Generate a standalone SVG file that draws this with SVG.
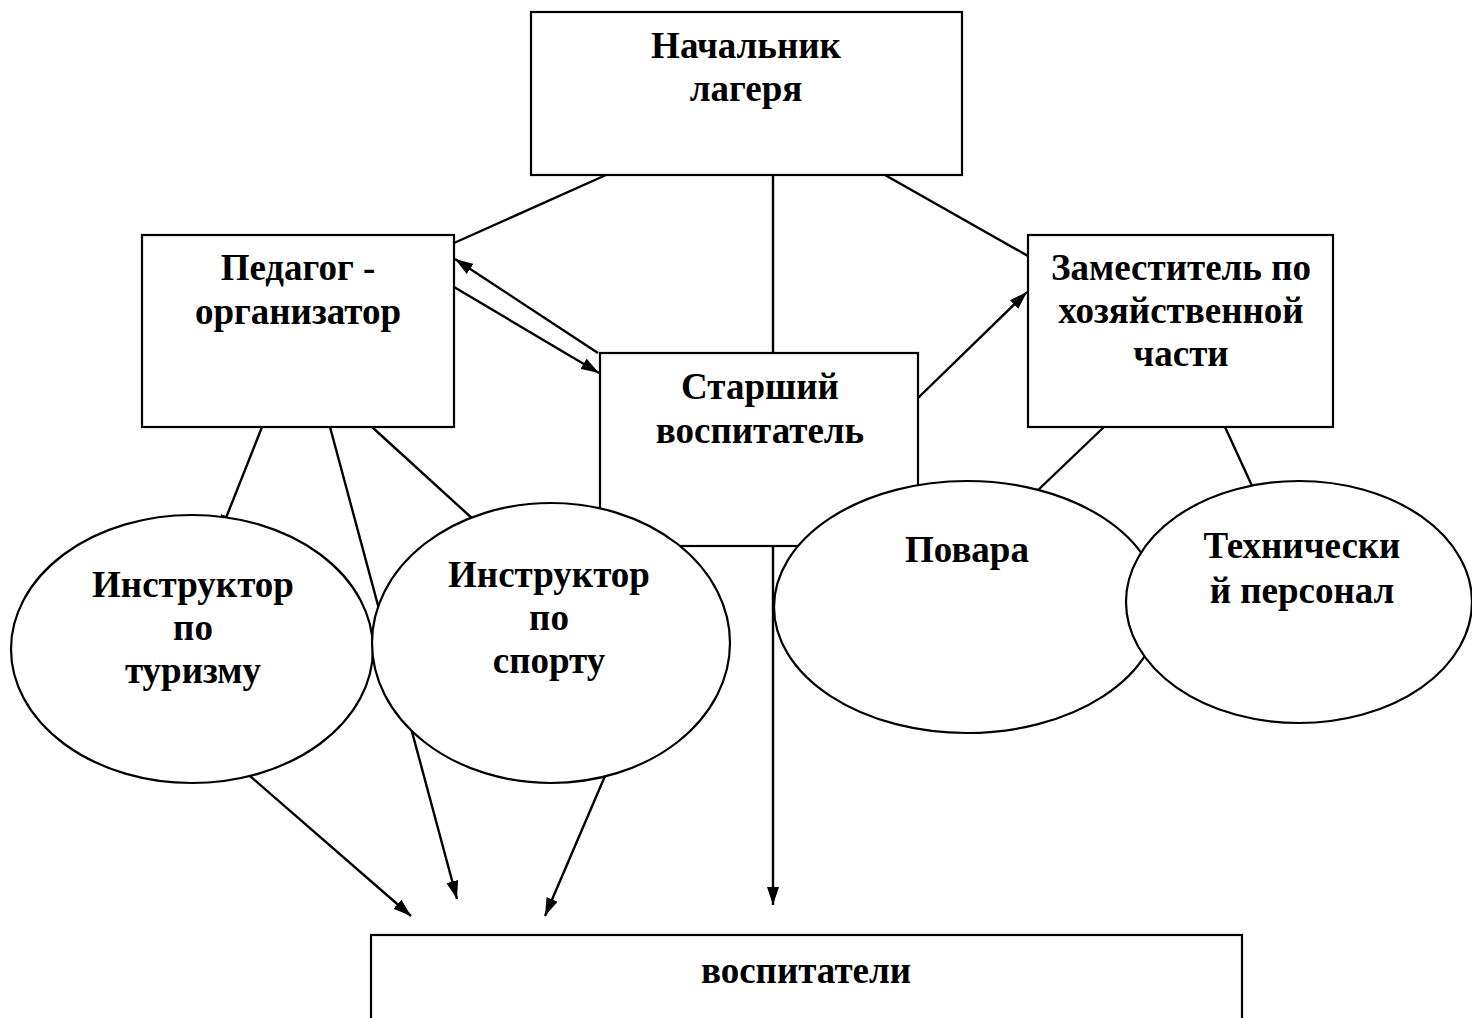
<svg xmlns="http://www.w3.org/2000/svg" width="1472" height="1018" viewBox="0 0 1472 1018">
<style>
.box{fill:#fff;stroke:#000;stroke-width:2.2}
.ell{fill:#fff;stroke:#000;stroke-width:2.2}
.ln{stroke:#000;stroke-width:2.4;fill:none}
.arr{stroke:#000;stroke-width:2.4;fill:none;marker-end:url(#ah)}
text{font-family:"Liberation Serif","Times New Roman",serif;font-weight:bold;font-size:37px;fill:#000;text-anchor:middle}
</style>
<defs>
<marker id="ah" viewBox="0 0 18 12" markerWidth="18" markerHeight="12" refX="18" refY="6" orient="auto" markerUnits="userSpaceOnUse">
<path d="M0,0 L18,6 L0,12 z" fill="#000"/>
</marker>
</defs>
<rect width="1472" height="1018" fill="#fff"/>
<g id="connectors">
<line class="ln" x1="606" y1="175" x2="454" y2="243"/>
<line class="ln" x1="773" y1="175" x2="773" y2="353"/>
<line class="ln" x1="885" y1="175" x2="1028" y2="256"/>
<line class="arr" x1="598" y1="353" x2="455" y2="259"/>
<line class="arr" x1="454" y1="287" x2="599" y2="373"/>
<line class="arr" x1="918" y1="398" x2="1027" y2="292"/>
<line class="arr" x1="262" y1="427" x2="220" y2="533"/>
<line class="arr" x1="330" y1="427" x2="457" y2="899"/>
<line class="ln" x1="372" y1="427" x2="474" y2="520"/>
<line class="ln" x1="1104" y1="427" x2="1036" y2="492"/>
<line class="ln" x1="1225" y1="427" x2="1253" y2="488"/>
<line class="arr" x1="250" y1="776" x2="411" y2="916"/>
<line class="arr" x1="605" y1="776" x2="545" y2="916"/>
<line class="arr" x1="773" y1="546" x2="773" y2="905"/>
</g>
<g id="node-nachalnik">
<rect class="box" x="531" y="12" width="431" height="163"/>
<text x="746" y="58">Начальник</text>
<text x="746" y="101">лагеря</text>
</g>
<g id="node-pedagog">
<rect class="box" x="142" y="235" width="312" height="192"/>
<text x="298" y="280">Педагог -</text>
<text x="298" y="324">организатор</text>
</g>
<g id="node-zam">
<rect class="box" x="1028" y="235" width="305" height="192"/>
<text x="1181" y="280">Заместитель по</text>
<text x="1181" y="323">хозяйственной</text>
<text x="1181" y="366">части</text>
</g>
<g id="node-starshiy">
<rect class="box" x="600" y="353" width="318" height="193"/>
<text x="760" y="399">Старший</text>
<text x="760" y="443">воспитатель</text>
</g>
<g id="node-turizm">
<ellipse class="ell" cx="192" cy="649" rx="181" ry="134"/>
<text x="193" y="597">Инструктор</text>
<text x="193" y="640">по</text>
<text x="193" y="683">туризму</text>
</g>
<g id="node-sport">
<ellipse class="ell" cx="551" cy="643" rx="179" ry="140"/>
<text x="549" y="587">Инструктор</text>
<text x="549" y="630">по</text>
<text x="549" y="673">спорту</text>
</g>
<g id="node-povara">
<ellipse class="ell" cx="967" cy="607" rx="193" ry="126"/>
<text x="967" y="562">Повара</text>
</g>
<g id="node-tech">
<ellipse class="ell" cx="1299" cy="602" rx="173" ry="121"/>
<text x="1302" y="558">Технически</text>
<text x="1302" y="603">й персонал</text>
</g>
<g id="node-vospitateli">
<rect class="box" x="371" y="935" width="871" height="110"/>
<text x="806" y="983">воспитатели</text>
</g>
</svg>
